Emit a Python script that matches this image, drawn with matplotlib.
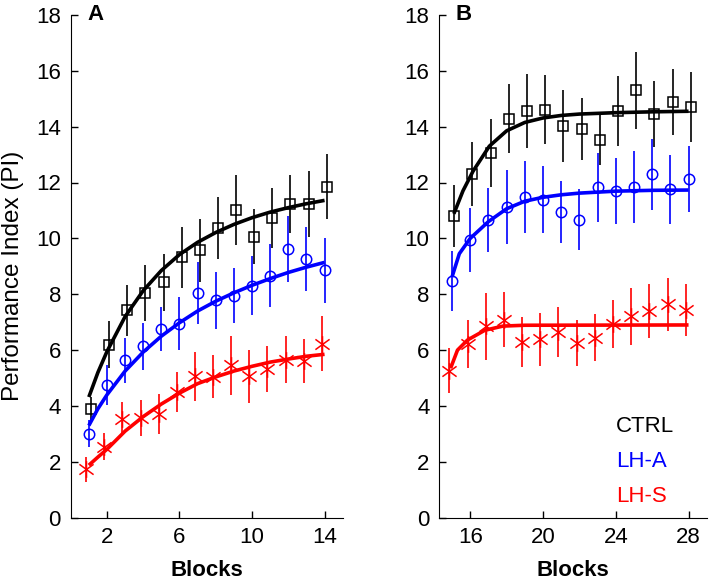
import numpy as np
import matplotlib
matplotlib.use('Agg')
import matplotlib.pyplot as plt
from matplotlib.path import Path

plt.rcParams['font.family'] = ['Liberation Sans', 'DejaVu Sans']

# panel A: blocks 1-14
blocks_a = [1, 2, 3, 4, 5, 6, 7, 8, 9, 10, 11, 12, 13, 14]
ctrl_a = [3.88, 6.2, 7.42, 8.05, 8.43, 9.32, 9.57, 10.37, 11.02, 10.06, 10.73, 11.23, 11.23, 11.85]
ctrl_a_err = [0.45, 0.85, 0.92, 1.0, 1.02, 1.1, 1.13, 1.12, 1.26, 0.99, 1.07, 1.05, 1.19, 1.17]
lha_a = [3.01, 4.74, 5.63, 6.13, 6.76, 6.95, 8.04, 7.78, 7.95, 8.31, 8.67, 9.62, 9.26, 8.85]
lha_a_err = [0.48, 0.71, 0.8, 0.83, 0.8, 0.95, 1.12, 1.03, 0.99, 1.07, 1.13, 1.19, 1.15, 1.17]
lhs_a = [1.73, 2.54, 3.55, 3.57, 3.72, 4.5, 5.06, 5.05, 5.45, 5.06, 5.33, 5.66, 5.61, 6.23]
lhs_a_err = [0.46, 0.48, 0.6, 0.64, 0.71, 0.71, 0.88, 0.78, 1.04, 0.95, 0.83, 0.85, 0.8, 0.99]

# fitted curves, panel A
fit_x_a = [1, 1.5, 2, 3, 4, 5, 6, 7, 8, 9, 10, 11, 12, 13, 14]
ctrl_fit_a = [4.32, 5.2, 5.95, 7.2, 8.13, 8.85, 9.42, 9.86, 10.21, 10.5, 10.74, 10.94, 11.1, 11.24, 11.36]
lha_fit_a = [3.3, 3.9, 4.4, 5.25, 5.93, 6.5, 6.98, 7.4, 7.75, 8.05, 8.32, 8.56, 8.78, 8.97, 9.14]
lhs_fit_a = [1.88, 2.17, 2.45, 3.1, 3.62, 4.07, 4.46, 4.8, 5.04, 5.25, 5.42, 5.57, 5.68, 5.78, 5.85]

# panel B: blocks 15-28
blocks_b = [15, 16, 17, 18, 19, 20, 21, 22, 23, 24, 25, 26, 27, 28]
ctrl_b = [10.8, 12.3, 13.06, 14.29, 14.55, 14.61, 14.01, 13.93, 13.51, 14.55, 15.3, 14.46, 14.88, 14.7]
ctrl_b_err = [1.1, 1.15, 1.23, 1.23, 1.32, 1.23, 1.29, 1.11, 0.9, 1.25, 1.37, 1.19, 1.19, 1.25]
lha_b = [8.48, 9.95, 10.67, 11.12, 11.48, 11.39, 10.94, 10.67, 11.83, 11.69, 11.83, 12.29, 11.75, 12.12]
lha_b_err = [1.07, 1.15, 1.15, 1.33, 1.29, 1.2, 1.1, 1.1, 1.23, 1.17, 1.29, 1.27, 1.23, 1.18]
lhs_b = [5.26, 6.21, 6.86, 7.09, 6.3, 6.38, 6.65, 6.26, 6.45, 6.95, 7.21, 7.4, 7.64, 7.45]
lhs_b_err = [0.8, 0.86, 1.2, 0.99, 0.89, 0.95, 0.89, 0.83, 0.83, 0.86, 1.02, 0.95, 0.95, 0.93]

ctrl_fit_x_b = [15.1, 15.6, 16.15, 17.05, 18, 19, 20, 21, 22, 24, 26, 28]
ctrl_fit_b = [10.88, 11.7, 12.4, 13.3, 13.85, 14.15, 14.31, 14.4, 14.45, 14.5, 14.53, 14.55]
lha_fit_x_b = [15, 15.4, 16, 17, 18, 19, 20, 21, 22, 24, 26, 28]
lha_fit_b = [8.62, 9.45, 10.0, 10.6, 11.06, 11.33, 11.47, 11.56, 11.62, 11.69, 11.72, 11.73]
lhs_fit_x_b = [14.92, 15.3, 15.85, 16.8, 17.8, 19, 28]
lhs_fit_b = [5.35, 6.0, 6.36, 6.71, 6.86, 6.89, 6.9]

groups = ['CTRL', 'LH-A', 'LH-S']
colors = ['k', '#0000ff', '#ff0000']

# asterisk: vertical bar + X
star = Path([(0, -1), (0, 1), (-0.85, -0.62), (0.85, 0.62), (-0.85, 0.62), (0.85, -0.62)],
            [Path.MOVETO, Path.LINETO, Path.MOVETO, Path.LINETO, Path.MOVETO, Path.LINETO])


def draw_panel(ax, blocks, means, errs, fits, xlim, xticks, letter):
    styles = [('s', 7.5, 0.12), ('o', 7.5, 0.0), (star, 12, -0.15)]
    for m, e, (fx, fy), c, (mk, ms, dx) in zip(means, errs, fits, colors, styles):
        x = np.array(blocks) + dx
        ax.errorbar(x, m, yerr=e, fmt='none', ecolor=c, elinewidth=1.2, capsize=0, zorder=2)
        ax.plot(x, m, linestyle='none', marker=mk, ms=ms, mfc='none', mec=c, mew=1.1, zorder=3)
        ax.plot(fx, fy, color=c, lw=2.6, solid_capstyle='butt', zorder=4)
    ax.set_xlim(*xlim)
    ax.set_ylim(0, 18)
    ax.set_xticks(xticks)
    ax.set_yticks(range(0, 19, 2))
    ax.spines['top'].set_visible(False)
    ax.spines['right'].set_visible(False)
    ax.tick_params(direction='in', length=5, width=1, labelsize=16, pad=7)
    ax.set_xlabel('Blocks', fontsize=16, fontweight='bold', labelpad=8)
    ax.text(0.09, 1.0, letter, transform=ax.transAxes, fontsize=16, fontweight='bold',
            ha='center', va='center')


fig = plt.figure(figsize=(7.12, 5.84), dpi=100)
ax1 = fig.add_axes([0.0993, 0.1135, 0.382, 0.861])
ax2 = fig.add_axes([0.617, 0.1135, 0.3756, 0.861])

draw_panel(ax1, blocks_a, [ctrl_a, lha_a, lhs_a], [ctrl_a_err, lha_a_err, lhs_a_err],
           [(fit_x_a, ctrl_fit_a), (fit_x_a, lha_fit_a), (fit_x_a, lhs_fit_a)],
           (0, 15), [2, 6, 10, 14], 'A')
draw_panel(ax2, blocks_b, [ctrl_b, lha_b, lhs_b], [ctrl_b_err, lha_b_err, lhs_b_err],
           [(ctrl_fit_x_b, ctrl_fit_b), (lha_fit_x_b, lha_fit_b), (lhs_fit_x_b, lhs_fit_b)],
           (14.3, 29), [16, 20, 24, 28], 'B')

ax1.set_ylabel('Performance Index (PI)', fontsize=17.5)
ax1.yaxis.set_label_coords(-0.17, 0.48)

for i, (g, c) in enumerate(zip(groups, colors)):
    ax2.text(0.661, 0.181 - i * 0.0695, g, transform=ax2.transAxes, color=c, fontsize=16,
             ha='left', va='center')

fig.savefig('out.png', dpi=100)
